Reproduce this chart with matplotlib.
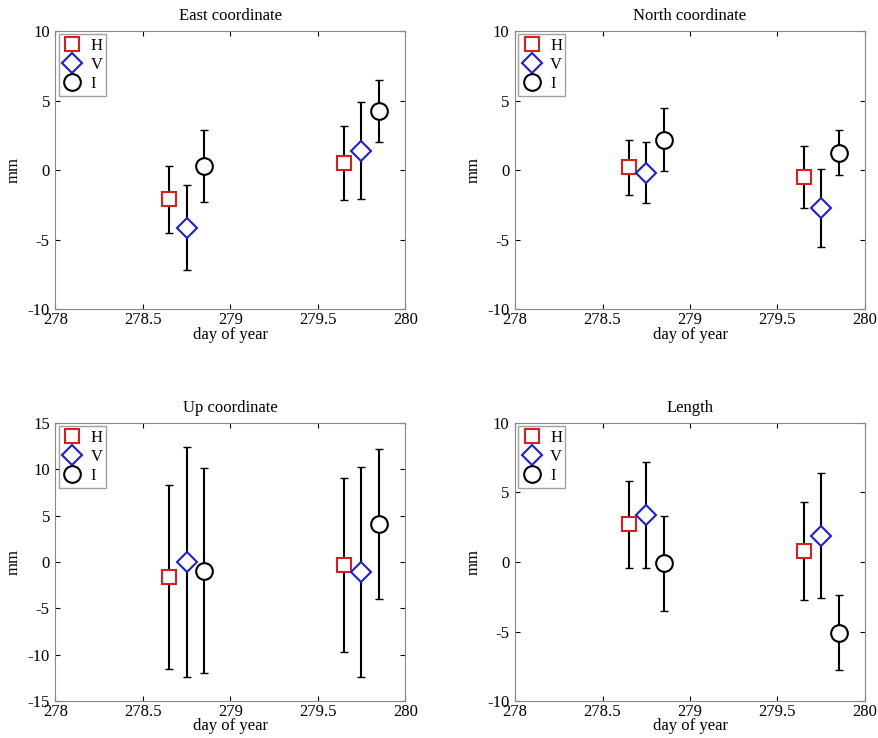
import matplotlib
matplotlib.use("Agg")
import matplotlib.pyplot as plt

plt.rcParams['font.family'] = ['Liberation Serif']
plt.rcParams['font.size'] = 12
plt.rcParams['axes.unicode_minus'] = False

# x positions per solution type
x_h = [278.65, 279.65]
x_v = [278.75, 279.75]
x_i = [278.85, 279.85]

titles = ["East coordinate", "North coordinate", "Up coordinate", "Length"]

# values (mm) and error bars per panel
h_val = [[-2.1, 0.5], [0.2, -0.5], [-1.6, -0.3], [2.7, 0.8]]
h_err = [[2.4, 2.65], [2.0, 2.2], [9.9, 9.4], [3.15, 3.5]]
v_val = [[-4.15, 1.4], [-0.2, -2.75], [0.0, -1.1], [3.4, 1.9]]
v_err = [[3.05, 3.5], [2.2, 2.8], [12.35, 11.35], [3.8, 4.5]]
i_val = [[0.3, 4.25], [2.2, 1.25], [-0.95, 4.1], [-0.1, -5.1]]
i_err = [[2.6, 2.2], [2.25, 1.6], [11.05, 8.05], [3.4, 2.7]]

ylims = [(-10, 10), (-10, 10), (-15, 15), (-10, 10)]
yticks = [range(-10, 11, 5), range(-10, 11, 5), range(-15, 16, 5), range(-10, 11, 5)]

fig = plt.figure(figsize=(8.79, 7.38), dpi=100)
positions = [[0.063, 0.581, 0.398, 0.377], [0.586, 0.581, 0.398, 0.377],
             [0.063, 0.050, 0.398, 0.377], [0.586, 0.050, 0.398, 0.377]]

for k in range(4):
    ax = fig.add_axes(positions[k])
    ax.errorbar(x_h, h_val[k], yerr=h_err[k], fmt='none', ecolor='black', elinewidth=1.5, capsize=3)
    ax.errorbar(x_v, v_val[k], yerr=v_err[k], fmt='none', ecolor='black', elinewidth=1.5, capsize=3)
    ax.errorbar(x_i, i_val[k], yerr=i_err[k], fmt='none', ecolor='black', elinewidth=1.5, capsize=3)
    ax.plot(x_h, h_val[k], 's', mfc='white', mec='#d42020', mew=1.5, ms=10, ls='none', label='H')
    ax.plot(x_v, v_val[k], 'D', mfc='white', mec='#1f1fc8', mew=1.5, ms=10, ls='none', label='V')
    ax.plot(x_i, i_val[k], 'o', mfc='white', mec='black', mew=1.5, ms=12, ls='none', label='I')
    ax.set_xlim(278, 280)
    ax.set_ylim(*ylims[k])
    ax.set_xticks([278, 278.5, 279, 279.5, 280])
    ax.set_xticklabels(['278', '278.5', '279', '279.5', '280'])
    ax.set_yticks(list(yticks[k]))
    ax.tick_params(direction='in', top=True, right=True)
    ax.tick_params(axis='x', pad=2)
    ax.tick_params(axis='y', pad=4)
    for s in ax.spines.values():
        s.set_color('#888888')
    ax.set_title(titles[k], fontsize=12, pad=8)
    ax.set_xlabel('day of year', labelpad=-1)
    ax.set_ylabel('mm', labelpad=4)
    leg = ax.legend(loc='upper left', fancybox=False, borderaxespad=0.2,
                    handletextpad=0.5, labelspacing=0.2, borderpad=0.2, handlelength=1.2,
                    fontsize=12)
    leg.get_frame().set_edgecolor('#888888')

fig.savefig('out.png', dpi=100)
